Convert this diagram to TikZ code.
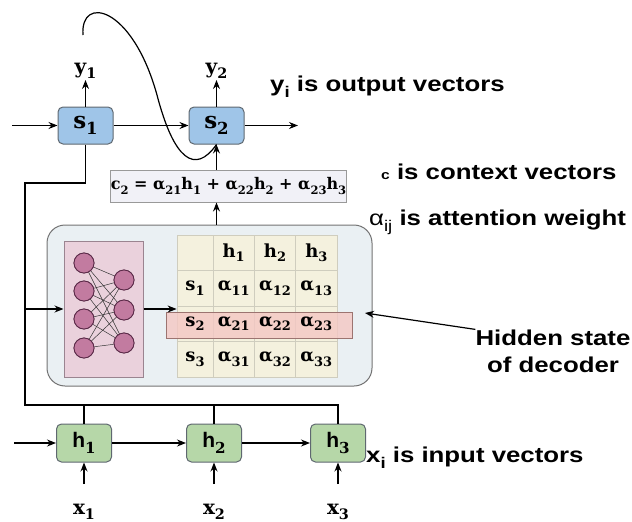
\documentclass[tikz,border=0pt]{standalone}
\usepackage{fontspec}
\setmainfont{Liberation Sans}
\newfontfamily\notefont[FakeStretch=1.2]{Liberation Sans}
\newfontfamily\serffont{DejaVu Serif}
\usetikzlibrary{arrows.meta,positioning,calc}

\definecolor{sblue}{HTML}{9FC5E8}
\definecolor{hgreen}{HTML}{B6D7A8}
\definecolor{boxline}{HTML}{5F6870}
\definecolor{ctxfill}{HTML}{F1F1F7}
\definecolor{attnfill}{HTML}{EAF0F3}
\definecolor{nnfill}{HTML}{EAD1DC}
\definecolor{nnline}{HTML}{9A8490}
\definecolor{neufill}{HTML}{C27BA0}
\definecolor{neuline}{HTML}{5A2A48}
\definecolor{cream}{HTML}{F4F1DE}
\definecolor{gridline}{HTML}{CFCDBE}
\definecolor{hlfill}{HTML}{F4C7C3}
\definecolor{hlline}{HTML}{9C7470}

\newcommand\lowsub[1]{\raisebox{-0.5ex}{\scalebox{0.72}{#1}}}

\tikzset{
  wire/.style={line width=1.2pt},
  decbox/.style={draw=boxline, fill=sblue, rounded corners=5pt, line width=1pt,
    minimum width=55pt, minimum height=37pt, inner sep=0pt,
    font=\serffont\bfseries\fontsize{23}{26}\selectfont},
  encbox/.style={decbox, fill=hgreen, minimum height=38pt,
    font=\bfseries\fontsize{21}{24}\selectfont},
  veclbl/.style={inner sep=1pt, font=\serffont\bfseries\fontsize{20}{23}\selectfont},
  ctxbox/.style={draw=gray!80, fill=ctxfill, line width=1pt, minimum width=215pt,
    minimum height=32pt, inner sep=0pt, font=\serffont\bfseries\fontsize{16}{18}\selectfont},
  attnbox/.style={draw=gray!90!black, fill=attnfill, line width=1pt, rounded corners=18pt,
    minimum width=325pt, minimum height=161pt},
  nnbox/.style={draw=nnline, fill=nnfill, line width=1pt, minimum width=79pt, minimum height=136pt},
  neuron/.style={circle, draw=neuline, fill=neufill, line width=0.8pt, minimum size=20pt, inner sep=0pt},
  synapse/.style={line width=0.5pt, black!80},
  cell/.style={draw=gridline, fill=cream, line width=0.8pt, minimum width=41.3pt,
    minimum height=35.5pt, inner sep=0pt},
  celltxt/.style={inner sep=0pt, font=\serffont\bfseries\fontsize{18}{20}\selectfont},
  hilite/.style={draw=hlline, fill=hlfill, fill opacity=0.8, line width=1pt,
    minimum width=186pt, minimum height=26pt},
  note/.style={anchor=west, inner sep=0pt, font=\notefont\bfseries\fontsize{21.5}{27}\selectfont}
}

\begin{document}
\begin{tikzpicture}[x=1pt, y=-1pt, >={Stealth[length=9pt,width=7pt]}]
\useasboundingbox (0,0) rectangle (632,522);

% decoder states
\node[decbox] (s1) at (85.5,125.5) {s\lowsub{1}};
\node[decbox] (s2) at (216.5,125.5) {s\lowsub{2}};
\node[veclbl, anchor=south] (y1) at (85.5,80) {y\lowsub{1}};
\node[veclbl, anchor=south] (y2) at (216.5,80) {y\lowsub{2}};
\coordinate (sin) at (12,125.5);
\coordinate (sout) at (298,125.5);
\coordinate (feed) at (83,35);
\draw[->, wire] (sin) -- (s1);
\draw[->, wire] (s1) -- (s2);
\draw[->, wire] (s2) -- (sout);
\draw[->, wire] (s1) -- (y1);
\draw[->, wire] (s2) -- (y2);
\draw[wire] (feed) .. controls (80,-5) and (132,5) .. (157,95)
  .. controls (174,160) and (195,175) .. (s2.south);

% context vector
\node[ctxbox] (ctx) at (228.5,186)
  {c\lowsub{2} = α\lowsub{21}h\lowsub{1} + α\lowsub{22}h\lowsub{2} + α\lowsub{23}h\lowsub{3}};

% attention block
\node[attnbox] (attn) at (209.5,305.5) {};
\node[nnbox] (nnet) at (103.5,309) {};
\foreach \i/\y in {1/263,2/291,3/319,4/348}
  \node[neuron] (in\i) at (84,\y) {};
\foreach \j/\y in {1/280,2/310,3/343}
  \node[neuron] (out\j) at (124,\y) {};
\foreach \i in {1,...,4}
  \foreach \j in {1,2,3}
    \draw[synapse] (in\i) -- (out\j);
\foreach \i in {1,...,4}
  \node[neuron] at (in\i) {};
\foreach \j in {1,2,3}
  \node[neuron] at (out\j) {};

% weight table
\foreach \r/\y in {0/252.75,1/288.25,2/323.75,3/359.25} {
  \node[cell, minimum width=36pt] (c\r0) at (195,\y) {};
  \foreach \c/\x in {1/233.7,2/275,3/316.3}
    \node[cell] (c\r\c) at (\x,\y) {};
}
\node[hilite] (hl) at (259,325) {};
\foreach \c in {1,2,3}
  \node[celltxt] (t0\c) at (c0\c) {h\lowsub{\c}};
\foreach \r in {1,2,3} {
  \node[celltxt] (t\r0) at (c\r0) {s\lowsub{\r}};
  \foreach \c in {1,2,3}
    \node[celltxt] (t\r\c) at (c\r\c) {α\lowsub{\r\c}};
}
\draw[->, wire] (nnet.east) -- (nnet.east -| c10.west);
\draw[->, wire] (attn.north -| s2) -- (ctx.south -| s2);
\draw[->, wire] (ctx.north -| s2) -- (s2.south);

% encoder states
\foreach \i/\x in {1/84,2/214,3/338} {
  \node[encbox] (h\i) at (\x,443) {h\lowsub{\serffont\i}};
  \node[veclbl] (x\i) at (\x,512) {x\lowsub{\i}};
  \coordinate (xin\i) at (\x,484);
  \draw[->, wire] (xin\i) -- (h\i);
}
\coordinate (hin) at (14,443);
\draw[->, wire] (hin) -- (h1);
\draw[->, wire] (h1) -- (h2);
\draw[->, wire] (h2) -- (h3);

% links from encoder to decoder
\coordinate (turn) at (25,183);
\coordinate (corner) at (25,405);
\draw[wire] (s1.south) |- (turn) -- (corner) -| (h3.north);
\draw[wire] (h1.north) -- (h1.north |- corner);
\draw[wire] (h2.north) -- (h2.north |- corner);
\draw[->, wire] (turn |- nnet) -- (nnet.west);

% notes
\node[note] (ynote) at (270,87) {y\lowsub{i} is output vectors};
\node[note] (cnote) at (381,172) {{\fontsize{13}{13}\selectfont c} is context vectors};
\node[note] (anote) at (369,222) {{\mdseries α\lowsub{ij}} is attention weight};
\node[note, anchor=center, align=center] (hidden) at (553,351) {Hidden state\\of decoder};
\node[note] (xnote) at (366,458) {x\lowsub{i} is input vectors};
\coordinate (tip) at (365,313);
\draw[->, wire] (hidden.north west) -- (tip);
\end{tikzpicture}
\end{document}
